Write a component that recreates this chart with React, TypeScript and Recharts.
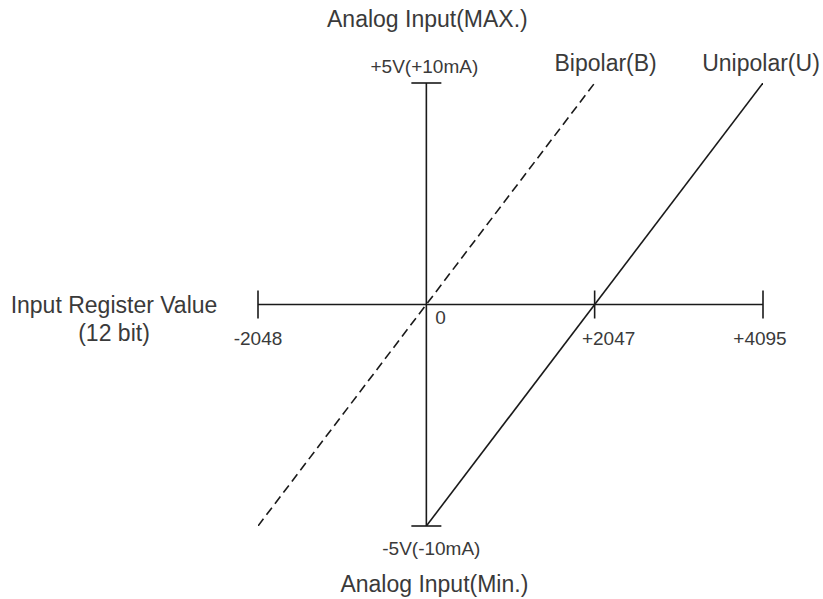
import React from "react";
import { LineChart, Line, XAxis, YAxis, ReferenceLine, ReferenceDot } from "recharts";

// register value range (12 bit) and analog range (-5V..+5V)
const registerRange = [-2048, 4095];
const analogRange = [-5, 5];

const unipolar = [
  { x: 0, y: -5 },
  { x: 4095, y: 5 },
];
const bipolar = [
  { x: -2048, y: -5 },
  { x: 2047, y: 5 },
];

const xTickValues = [-2048, 0, 2047, 4095];
const xTickLabels = ["-2048", "0", "+2047", "+4095"];
const xTickMarks = [true, false, true, true];
const xTickDx = [0, 14, 14, -3];

const FONT = "'Liberation Sans', Arial, sans-serif";
const TEXT = "#3a3a3a";
const INK = "#1a1a1a";

const XTick = ({ cx, cy, label, mark, dx }: any) => (
  <g>
    {mark && <line x1={cx} y1={cy - 14} x2={cx} y2={cy + 14} stroke={INK} strokeWidth={1.6} />}
    {label === "0" ? (
      <text x={cx + 9} y={cy + 19} fontSize={19} fontFamily={FONT} fill={TEXT}>
        {label}
      </text>
    ) : (
      <text x={cx + dx} y={cy + 40} fontSize={19} fontFamily={FONT} fill={TEXT} textAnchor="middle">
        {label}
      </text>
    )}
  </g>
);

const YEnd = ({ cx, cy, top }: any) => (
  <g>
    <line x1={cx - 15} y1={cy} x2={cx + 15} y2={cy} stroke={INK} strokeWidth={1.6} />
    {top ? (
      <>
        <text x={cx - 2} y={cy - 10} fontSize={19} fontFamily={FONT} fill={TEXT} textAnchor="middle">
          +5V(+10mA)
        </text>
        <text x={cx + 1} y={cy - 56} fontSize={23} fontFamily={FONT} fill={TEXT} textAnchor="middle">
          Analog Input(MAX.)
        </text>
      </>
    ) : (
      <>
        <text x={cx + 5} y={cy + 29} fontSize={19} fontFamily={FONT} fill={TEXT} textAnchor="middle">
          -5V(-10mA)
        </text>
        <text x={cx + 8} y={cy + 66} fontSize={23} fontFamily={FONT} fill={TEXT} textAnchor="middle">
          Analog Input(Min.)
        </text>
      </>
    )}
  </g>
);

const SeriesName = ({ cx, cy, name, dx }: any) => (
  <text x={cx + dx} y={cy - 12} fontSize={23} fontFamily={FONT} fill={TEXT} textAnchor="middle">
    {name}
  </text>
);

const AxisTitle = ({ cx, cy }: any) => (
  <g>
    <text x={cx - 144} y={cy + 8} fontSize={23} fontFamily={FONT} fill={TEXT} textAnchor="middle">
      Input Register Value
    </text>
    <text x={cx - 144} y={cy + 36} fontSize={23} fontFamily={FONT} fill={TEXT} textAnchor="middle">
      (12 bit)
    </text>
  </g>
);

export default function App() {
  return (
    <div style={{ position: "absolute", left: 0, top: 0, background: "#fff" }}>
      <LineChart width={823} height={599} margin={{ top: 83, right: 60, bottom: 73, left: 258 }}>
        <XAxis type="number" dataKey="x" domain={registerRange} hide allowDataOverflow />
        <YAxis type="number" dataKey="y" domain={analogRange} hide allowDataOverflow />
        <ReferenceLine y={0} stroke={INK} strokeWidth={1.6} />
        <ReferenceLine x={0} stroke={INK} strokeWidth={1.6} />
        {xTickValues.map((v, i) => (
          <ReferenceDot
            key={v}
            x={v}
            y={0}
            shape={(p: any) => <XTick {...p} label={xTickLabels[i]} mark={xTickMarks[i]} dx={xTickDx[i]} />}
          />
        ))}
        <ReferenceDot x={0} y={analogRange[1]} shape={(p: any) => <YEnd {...p} top />} />
        <ReferenceDot x={0} y={analogRange[0]} shape={(p: any) => <YEnd {...p} />} />
        <ReferenceDot x={registerRange[0]} y={0} shape={(p: any) => <AxisTitle {...p} />} />
        <ReferenceDot
          x={bipolar[1].x}
          y={bipolar[1].y}
          shape={(p: any) => <SeriesName {...p} name="Bipolar(B)" dx={11} />}
        />
        <ReferenceDot
          x={unipolar[1].x}
          y={unipolar[1].y}
          shape={(p: any) => <SeriesName {...p} name="Unipolar(U)" dx={-2} />}
        />
        <Line
          data={bipolar}
          dataKey="y"
          type="linear"
          stroke={INK}
          strokeWidth={1.6}
          strokeDasharray="9 5"
          dot={false}
          isAnimationActive={false}
        />
        <Line
          data={unipolar}
          dataKey="y"
          type="linear"
          stroke={INK}
          strokeWidth={1.6}
          dot={false}
          isAnimationActive={false}
        />
      </LineChart>
    </div>
  );
}
